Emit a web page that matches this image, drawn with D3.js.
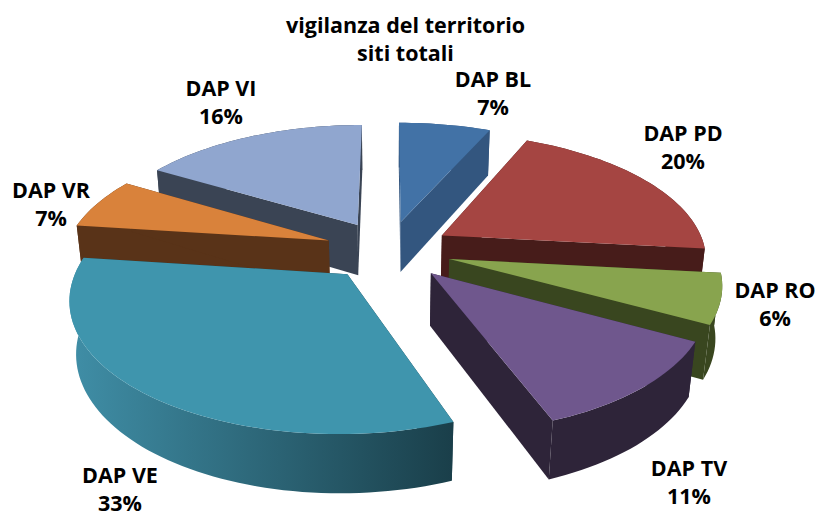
<!DOCTYPE html>
<html><head><meta charset="utf-8">
<style>html,body{margin:0;padding:0;background:#fff}svg{display:block}text{font-family:"Open Sans",sans-serif;font-weight:700;fill:#000}</style>
<script src="https://cdnjs.cloudflare.com/ajax/libs/d3/7.8.5/d3.min.js"></script>
</head><body><svg id="c" width="817" height="512"></svg>
<script>
const categories=["DAP BL","DAP PD","DAP RO","DAP TV","DAP VE","DAP VR","DAP VI"];
const values=[6.7,20,6.2,11.4,32.7,6.5,16.49];
const titleLines=["vigilanza del territorio","siti totali"];
const topColors=["#4272a6","#a54542","#88a44e","#6f578d","#3f95ad","#d9823b","#90a6cf"];
const wallColors=["#33567f","#471c1a","#39461f","#2e2439","#1a3f4a","#593318","#3a4454"];
const wallLight=["#33567f","#471c1a","#39461f","#2e2439","#3f8da5","#593318","#3a4454"];
const labelX=[493,683,775,689,120,51,221];
const labelY=[79,133,290,468,475,190,88];

const W=817,H=512,cx=388,cy=250,S=264,D=5.3,elev=0.49,explode=0.24,depth=0.225;
const sn=Math.sin(elev),cs=Math.cos(elev);
const svg=d3.select("#c");
const defs=svg.append("defs");
function project(x,y,z){
  const v=y*sn-z*cs,w=y*cs+z*sn,k=D/(D-w);
  return [cx+S*x*k,cy+S*v*k];
}
const pie=d3.pie().sort(null).value(d=>d)(values);
const line=d3.line();
const pct=d3.format(".0f");
const slices=pie.map((d,i)=>{
  const mid=(d.startAngle+d.endAngle)/2;
  const ox=explode*Math.sin(mid),oy=-explode*Math.cos(mid);
  const pt=(a,r,z)=>project(ox+r*Math.sin(a),oy-r*Math.cos(a),z);
  const n=Math.max(4,Math.ceil((d.endAngle-d.startAngle)/0.03));
  const as=d3.range(n+1).map(j=>d.startAngle+(d.endAngle-d.startAngle)*j/n);
  return {i,d,pt,as,ay:oy};
}).sort((a,b)=>a.ay-b.ay);
const root=svg.append("g");
slices.forEach(s=>{
  const g=root.append("g"),i=s.i,{pt,as}=s;
  const z0=0,z1=-depth,a0=s.d.startAngle,a1=s.d.endAngle;
  [a0,a1].forEach(a=>{
    g.append("path").attr("d",line([pt(a,0,z0),pt(a,0,z1),pt(a,1,z1),pt(a,1,z0)])+"Z").attr("fill",wallColors[i]);
  });
  const xs=as.map(a=>pt(a,1,z1)[0]);
  const grad=defs.append("linearGradient").attr("id","w"+i).attr("gradientUnits","userSpaceOnUse")
    .attr("x1",d3.min(xs)).attr("x2",d3.max(xs)).attr("y1",0).attr("y2",0);
  grad.append("stop").attr("offset",0).attr("stop-color",wallLight[i]);
  grad.append("stop").attr("offset",1).attr("stop-color",wallColors[i]);
  const outer=as.map(a=>pt(a,1,z0)).concat(as.slice().reverse().map(a=>pt(a,1,z1)));
  g.append("path").attr("d",line(outer)+"Z").attr("fill",`url(#w${i})`);
  const top=[pt(0,0,z0)].concat(as.map(a=>pt(a,1,z0)));
  g.append("path").attr("d",line(top)+"Z").attr("fill",topColors[i]);
});
const fs=21.5,lh=28.5;
titleLines.forEach((t,j)=>svg.append("text").attr("x",405.5).attr("y",25+lh*j).attr("dy",".35em").attr("text-anchor","middle").attr("font-size",fs).text(t));
categories.forEach((c,i)=>{
  [c,pct(values[i])+"%"].forEach((t,j)=>svg.append("text").attr("x",labelX[i]).attr("y",labelY[i]+lh*j).attr("dy",".35em").attr("text-anchor","middle").attr("font-size",fs).text(t));
});
</script></body></html>
